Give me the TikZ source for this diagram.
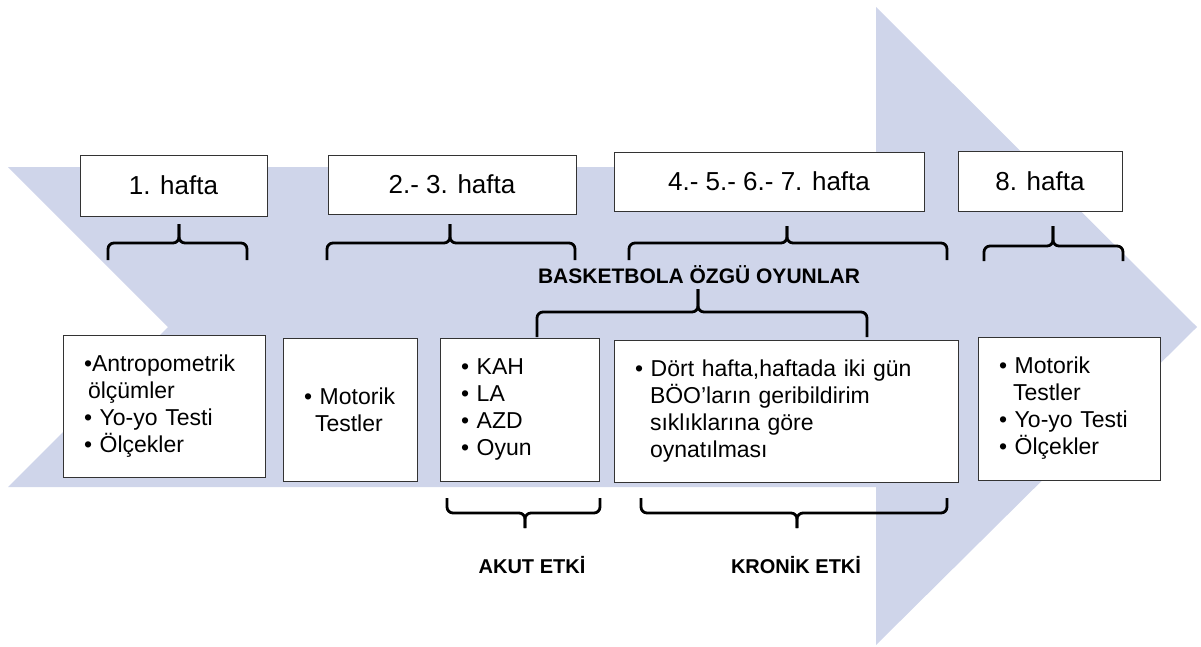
\documentclass[tikz,border=0pt]{standalone}
\usepackage{fontspec}
\setmainfont{Liberation Sans}
\usetikzlibrary{positioning}

\definecolor{shaft}{RGB}{207,213,234}

\begin{document}
\begin{tikzpicture}[
  x=1pt, y=-1pt,
  week/.style={draw=black!80, line width=1pt, fill=white, align=center,
               font=\fontsize{26}{30}\selectfont},
  item/.style={draw=black!80, line width=1pt, fill=white, align=left,
               inner xsep=21pt, inner ysep=0pt, font=\fontsize{23}{27}\selectfont},
  lbl/.style={font=\fontsize{20}{24}\selectfont\bfseries},
  brc/.style={line width=2.8pt, rounded corners=6pt},
]

\useasboundingbox (0,0) rectangle (1201,646);

% big arrow in the back
\fill[shaft] (8,167) -- (876,167) -- (876,7) -- (1197,327) -- (876,645)
  -- (876,487) -- (8,487) -- (168,327) -- cycle;

% week boxes
\node[week, minimum width=187pt, minimum height=61pt] (wk1) at (173.5,185.5) {1. hafta};
\node[week, minimum width=248pt, minimum height=59pt] (wk23) at (452,184.5) {2.- 3. hafta};
\node[week, minimum width=310pt, minimum height=59pt] (wk47) at (769,181.5) {4.- 5.- 6.- 7. hafta};
\node[week, minimum width=164pt, minimum height=60pt] (wk8) at (1040,181) {8. hafta};

% contents
\node[item, text width=160pt, minimum height=142pt] (pre) at (164,406)
  {•Antropometrik\\\hspace*{4pt}ölçümler\\• Yo-yo Testi\\• Ölçekler};
\node[item, text width=92pt, minimum height=143pt] (motor) at (350,409.5)
  {• Motorik\\\hspace*{11pt}Testler};
\node[item, text width=117pt, minimum height=143pt] (acutebox) at (519.5,409.5)
  {• KAH\\• LA\\• AZD\\• Oyun};
\node[item, text width=302pt, minimum height=142pt] (games) at (786,411)
  {• Dört hafta,haftada iki gün\\\hspace*{15pt}BÖO’ların geribildirim\\\hspace*{15pt}sıklıklarına göre\\\hspace*{15pt}oynatılması};
\node[item, text width=140pt, minimum height=143pt] (post) at (1069,408.5)
  {• Motorik\\\hspace*{14pt}Testler\\• Yo-yo Testi\\• Ölçekler};

% labels
\node[lbl, font=\fontsize{21}{25}\selectfont\bfseries] (bball) at (699,275) {BASKETBOLA ÖZGÜ OYUNLAR};
\node[lbl] (acute) at (532,565) {AKUT ETKİ};
\node[lbl] (chronic) at (796,565) {KRONİK ETKİ};

% braces: left x / tip x / right x / tip y / bar y / end y
\foreach \xa/\xm/\xb/\yt/\yb/\ye in {108/179/247/224/243/260, 327/450/575/224/243/260,
    629/787/947/226/243/260, 984/1053/1123/226/246/261, 537/698/867/289/312/337,
    447/525/600/528/513/498, 641/797/947/528/513/498}
{
  \draw[brc] (\xa,\ye) |- (\xm,\yb) -- (\xm,\yt);
  \draw[brc] (\xb,\ye) |- (\xm,\yb) -- (\xm,\yt);
}

\end{tikzpicture}
\end{document}
